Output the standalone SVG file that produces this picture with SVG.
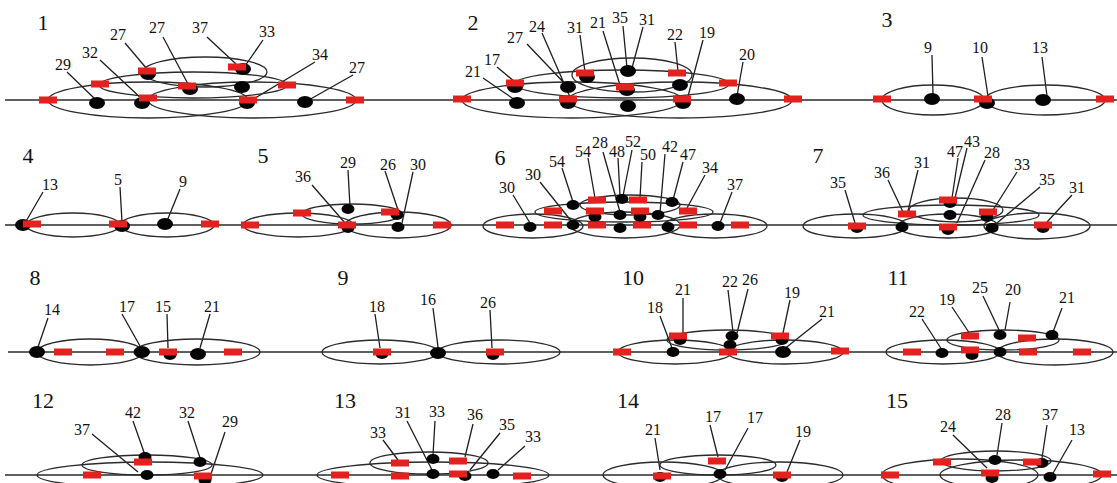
<svg xmlns="http://www.w3.org/2000/svg" xmlns:xlink="http://www.w3.org/1999/xlink" width="1117" height="483" viewBox="0 0 1117 483">
<style>
.bg{fill:#fff}
.axis{stroke:#2a2a2a;stroke-width:1.4;fill:none}
.orb{stroke:#2a2a2a;stroke-width:1.3;fill:none}
.lead{stroke:#1e1e1e;stroke-width:1.3;fill:none}
.lbl{font-family:"Liberation Serif","Times New Roman",serif;font-size:16px;fill:#111;text-anchor:middle}
.num{font-family:"Liberation Serif","Times New Roman",serif;font-size:22px;fill:#111;text-anchor:middle}
</style>
<defs>
<rect id="r" x="-9" y="-3.5" width="18" height="7" fill="#e3211f"/>
<ellipse id="d" rx="8" ry="6" fill="#050505"/>
<ellipse id="ds" rx="6.5" ry="5" fill="#050505"/>
</defs>
<rect class="bg" width="1117" height="483"/>

<!-- horizontal reference lines, one per row -->
<g id="axes">
<line class="axis" x1="5" y1="100" x2="1117" y2="100"/>
<line class="axis" x1="5" y1="225" x2="1117" y2="225"/>
<line class="axis" x1="8" y1="352" x2="1117" y2="352"/>
<line class="axis" x1="5" y1="475" x2="1117" y2="475"/>
</g>

<!-- leader lines from labels to markers -->
<g id="connectors" class="lead">
<path d="M67 72L95 99M100 60L143 100M125 43L147 69M163 37L188 84M207 37L236 64M263 40L245 66M315 62L252 100M353 75L307 101"/>
<path d="M483 78L515 100M497 67L515 82M527 44L567 86M542 33L570 97M580 35L585 72M603 31L620 85M623 26L627 68M643 27L632 68M675 42L678 71M703 40L687 100M743 62L737 96"/>
<path d="M932 55L933 95M982 57L988 96M1042 57L1047 96"/>
<path d="M43 192L25 223M120 187L122 222M180 189L167 221"/>
<path d="M312 185L345 223M348 170L350 207M385 171L398 210M413 172L402 223"/>
<path d="M513 195L530 223M540 182L572 222M562 168L573 202M588 158L595 198M603 152L620 212M618 158L620 196M632 150L623 196M642 162L640 198M665 154L660 213M683 162L673 200M705 175L687 208M732 192L720 223"/>
<path d="M845 190L855 223M888 180L903 212M918 170L908 211M958 158L952 198M967 148L955 198M985 160L957 223M1017 172L993 210M1040 187L997 223M1072 195L1047 222"/>
<path d="M48 318L38 347M122 314L140 346M167 314L168 348M210 314L200 348"/>
<path d="M375 314L380 348M433 308L438 347M490 310L492 348"/>
<path d="M660 316L672 348M683 298L683 333M728 290L733 332M748 289L737 333M790 300L783 333M822 319L783 350"/>
<path d="M922 319L942 350M952 307L970 334M983 296L1000 332M1010 302L1005 330M1062 308L1053 332"/>
<path d="M92 434L138 472M133 421L145 455M188 421L200 458M225 432L210 477"/>
<path d="M383 440L398 460M407 421L432 470M435 421L433 455M473 424L465 457M500 433L470 470M525 446L498 470"/>
<path d="M655 438L660 470M710 425L718 457M748 428L725 470M800 440L787 472"/>
<path d="M953 435L987 468M1002 423L997 455M1047 425L1042 458M1072 440L1052 475"/>
</g>

<g id="panel-1">
<text class="num" x="43" y="30">1</text>
<g class="orb"><ellipse cx="148" cy="100" rx="100" ry="18"/><ellipse cx="252" cy="100" rx="104" ry="18"/><ellipse cx="193" cy="85" rx="94" ry="13"/><ellipse cx="205" cy="72" rx="62" ry="15"/></g>
<use href="#d" x="97" y="103"/><use href="#d" x="142" y="103"/><use href="#d" x="148" y="74"/><use href="#d" x="190" y="89"/><use href="#d" x="242" y="87"/><use href="#d" x="243" y="69"/><use href="#d" x="247" y="103"/><use href="#d" x="305" y="102"/>
<use href="#r" x="48" y="100"/><use href="#r" x="100" y="84"/><use href="#r" x="147" y="71"/><use href="#r" x="148" y="98"/><use href="#r" x="187" y="86"/><use href="#r" x="237" y="67"/><use href="#r" x="248" y="100"/><use href="#r" x="287" y="85"/><use href="#r" x="355" y="100"/>
<g class="lbl"><text x="63" y="70">29</text><text x="90" y="58">32</text><text x="118" y="40">27</text><text x="157" y="33">27</text><text x="200" y="33">37</text><text x="267" y="37">33</text><text x="320" y="60">34</text><text x="357" y="73">27</text></g>
</g>

<g id="panel-2">
<text class="num" x="473" y="30">2</text>
<g class="orb"><ellipse cx="572" cy="100" rx="110" ry="18"/><ellipse cx="680" cy="100" rx="112" ry="18"/><ellipse cx="622" cy="84" rx="107" ry="14"/><ellipse cx="632" cy="75" rx="60" ry="17"/></g>
<use href="#d" x="517" y="103"/><use href="#d" x="515" y="87"/><use href="#d" x="568" y="87"/><use href="#d" x="587" y="77"/><use href="#d" x="628" y="71"/><use href="#d" x="628" y="106"/><use href="#d" x="680" y="85"/><use href="#d" x="683" y="103"/><use href="#d" x="737" y="99"/><use href="#d" x="568" y="103"/><use href="#d" x="627" y="90"/>
<use href="#r" x="462" y="99"/><use href="#r" x="515" y="83"/><use href="#r" x="568" y="99"/><use href="#r" x="585" y="73"/><use href="#r" x="625" y="87"/><use href="#r" x="677" y="73"/><use href="#r" x="728" y="83"/><use href="#r" x="682" y="99"/><use href="#r" x="793" y="99"/>
<g class="lbl"><text x="473" y="77">21</text><text x="492" y="65">17</text><text x="515" y="43">27</text><text x="537" y="32">24</text><text x="575" y="33">31</text><text x="598" y="28">21</text><text x="620" y="23">35</text><text x="647" y="25">31</text><text x="675" y="40">22</text><text x="707" y="38">19</text><text x="747" y="60">20</text></g>
</g>

<g id="panel-3">
<text class="num" x="887" y="27">3</text>
<g class="orb"><ellipse cx="933" cy="100" rx="51" ry="15"/><ellipse cx="1045" cy="100" rx="60" ry="15"/></g>
<use href="#d" x="932" y="99"/><use href="#d" x="1043" y="100"/><use href="#d" x="987" y="103"/>
<use href="#r" x="882" y="99"/><use href="#r" x="983" y="99"/><use href="#r" x="1105" y="99"/>
<g class="lbl"><text x="928" y="53">9</text><text x="980" y="53">10</text><text x="1040" y="53">13</text></g>
</g>

<g id="panel-4">
<text class="num" x="28" y="163">4</text>
<g class="orb"><ellipse cx="73" cy="225" rx="47" ry="12"/><ellipse cx="167" cy="225" rx="47" ry="12"/></g>
<use href="#d" x="23" y="225"/><use href="#d" x="122" y="226"/><use href="#d" x="165" y="224"/>
<use href="#r" x="32" y="224"/><use href="#r" x="118" y="224"/><use href="#r" x="210" y="224"/>
<g class="lbl"><text x="50" y="190">13</text><text x="118" y="185">5</text><text x="183" y="187">9</text></g>
</g>

<g id="panel-5">
<text class="num" x="263" y="163">5</text>
<g class="orb"><ellipse cx="298" cy="225" rx="55" ry="12"/><ellipse cx="398" cy="225" rx="53" ry="13"/><ellipse cx="352" cy="214" rx="50" ry="10"/></g>
<use href="#ds" x="348" y="209"/><use href="#ds" x="348" y="228"/><use href="#ds" x="397" y="215"/><use href="#ds" x="398" y="227"/>
<use href="#r" x="250" y="225"/><use href="#r" x="302" y="213"/><use href="#r" x="347" y="225"/><use href="#r" x="390" y="212"/><use href="#r" x="442" y="225"/>
<g class="lbl"><text x="303" y="182">36</text><text x="348" y="168">29</text><text x="388" y="170">26</text><text x="418" y="170">30</text></g>
</g>

<g id="panel-6">
<text class="num" x="500" y="165">6</text>
<g class="orb"><ellipse cx="533" cy="226" rx="50" ry="12"/><ellipse cx="625" cy="225" rx="55" ry="13"/><ellipse cx="715" cy="226" rx="52" ry="12"/><ellipse cx="624" cy="212" rx="89" ry="10"/><ellipse cx="630" cy="205" rx="50" ry="10"/></g>
<use href="#ds" x="530" y="227"/><use href="#ds" x="573" y="205"/><use href="#ds" x="573" y="225"/><use href="#ds" x="595" y="217"/><use href="#ds" x="622" y="199"/><use href="#ds" x="620" y="215"/><use href="#ds" x="620" y="228"/><use href="#ds" x="640" y="217"/><use href="#ds" x="658" y="215"/><use href="#ds" x="672" y="202"/><use href="#ds" x="668" y="227"/><use href="#ds" x="718" y="226"/>
<use href="#r" x="505" y="225"/><use href="#r" x="553" y="211"/><use href="#r" x="553" y="225"/><use href="#r" x="597" y="200"/><use href="#r" x="595" y="211"/><use href="#r" x="597" y="225"/><use href="#r" x="638" y="200"/><use href="#r" x="640" y="211"/><use href="#r" x="642" y="225"/><use href="#r" x="688" y="211"/><use href="#r" x="688" y="225"/><use href="#r" x="740" y="225"/>
<g class="lbl"><text x="507" y="193">30</text><text x="533" y="180">30</text><text x="557" y="167">54</text><text x="583" y="157">54</text><text x="600" y="148">28</text><text x="617" y="157">48</text><text x="633" y="147">52</text><text x="648" y="160">50</text><text x="670" y="152">42</text><text x="688" y="160">47</text><text x="710" y="173">34</text><text x="735" y="190">37</text></g>
</g>

<g id="panel-7">
<text class="num" x="818" y="163">7</text>
<g class="orb"><ellipse cx="855" cy="226" rx="52" ry="12"/><ellipse cx="948" cy="226" rx="50" ry="12"/><ellipse cx="1037" cy="226" rx="53" ry="13"/><ellipse cx="951" cy="215" rx="88" ry="10"/><ellipse cx="956" cy="210" rx="47" ry="12"/></g>
<use href="#ds" x="857" y="228"/><use href="#ds" x="902" y="227"/><use href="#ds" x="950" y="215"/><use href="#ds" x="948" y="230"/><use href="#ds" x="950" y="203"/><use href="#ds" x="992" y="228"/><use href="#ds" x="987" y="217"/><use href="#ds" x="1043" y="228"/>
<use href="#r" x="857" y="226"/><use href="#r" x="907" y="214"/><use href="#r" x="948" y="200"/><use href="#r" x="948" y="227"/><use href="#r" x="988" y="212"/><use href="#r" x="1043" y="225"/>
<g class="lbl"><text x="838" y="188">35</text><text x="882" y="178">36</text><text x="922" y="168">31</text><text x="955" y="157">47</text><text x="972" y="147">43</text><text x="992" y="158">28</text><text x="1022" y="170">33</text><text x="1047" y="185">35</text><text x="1077" y="193">31</text></g>
</g>

<g id="panel-8">
<text class="num" x="35" y="285">8</text>
<g class="orb"><ellipse cx="90" cy="352" rx="53" ry="13"/><ellipse cx="197" cy="352" rx="63" ry="13"/></g>
<use href="#d" x="37" y="352"/><use href="#d" x="142" y="352"/><use href="#ds" x="170" y="355"/><use href="#d" x="198" y="354"/>
<use href="#r" x="63" y="352"/><use href="#r" x="115" y="352"/><use href="#r" x="168" y="352"/><use href="#r" x="233" y="352"/>
<g class="lbl"><text x="52" y="315">14</text><text x="127" y="312">17</text><text x="163" y="312">15</text><text x="212" y="312">21</text></g>
</g>

<g id="panel-9">
<text class="num" x="343" y="285">9</text>
<g class="orb"><ellipse cx="380" cy="352" rx="58" ry="12"/><ellipse cx="499" cy="352" rx="61" ry="12"/></g>
<use href="#ds" x="382" y="354"/><use href="#d" x="438" y="353"/><use href="#ds" x="493" y="355"/>
<use href="#r" x="382" y="352"/><use href="#r" x="495" y="352"/>
<g class="lbl"><text x="377" y="312">18</text><text x="428" y="305">16</text><text x="488" y="308">26</text></g>
</g>

<g id="panel-10">
<text class="num" x="633" y="285">10</text>
<g class="orb"><ellipse cx="675" cy="352" rx="57" ry="12"/><ellipse cx="785" cy="352" rx="58" ry="12"/><ellipse cx="727" cy="340" rx="60" ry="10"/></g>
<use href="#ds" x="673" y="352"/><use href="#ds" x="680" y="340"/><use href="#ds" x="732" y="336"/><use href="#ds" x="730" y="345"/><use href="#d" x="783" y="352"/><use href="#ds" x="782" y="340"/>
<use href="#r" x="622" y="352"/><use href="#r" x="678" y="336"/><use href="#r" x="728" y="352"/><use href="#r" x="780" y="336"/><use href="#r" x="840" y="351"/>
<g class="lbl"><text x="655" y="313">18</text><text x="683" y="295">21</text><text x="730" y="287">22</text><text x="750" y="285">26</text><text x="792" y="298">19</text><text x="827" y="317">21</text></g>
</g>

<g id="panel-11">
<text class="num" x="898" y="285">11</text>
<g class="orb"><ellipse cx="943" cy="352" rx="57" ry="12"/><ellipse cx="1055" cy="352" rx="58" ry="13"/><ellipse cx="1003" cy="340" rx="56" ry="10"/></g>
<use href="#ds" x="942" y="353"/><use href="#ds" x="972" y="355"/><use href="#ds" x="1000" y="335"/><use href="#ds" x="1000" y="352"/><use href="#ds" x="1052" y="335"/>
<use href="#r" x="912" y="352"/><use href="#r" x="970" y="336"/><use href="#r" x="970" y="350"/><use href="#r" x="1027" y="338"/><use href="#r" x="1028" y="352"/><use href="#r" x="1082" y="352"/>
<g class="lbl"><text x="917" y="317">22</text><text x="947" y="305">19</text><text x="980" y="293">25</text><text x="1013" y="295">20</text><text x="1067" y="303">21</text></g>
</g>

<g id="panel-12">
<text class="num" x="43" y="408">12</text>
<g class="orb"><ellipse cx="150" cy="475" rx="113" ry="13"/><ellipse cx="147" cy="465" rx="65" ry="10"/></g>
<use href="#ds" x="145" y="457"/><use href="#ds" x="200" y="462"/><use href="#ds" x="147" y="475"/><use href="#ds" x="205" y="480"/>
<use href="#r" x="92" y="475"/><use href="#r" x="143" y="462"/><use href="#r" x="203" y="476"/>
<g class="lbl"><text x="82" y="435">37</text><text x="133" y="418">42</text><text x="187" y="418">32</text><text x="230" y="427">29</text></g>
</g>

<g id="panel-13">
<text class="num" x="345" y="408">13</text>
<g class="orb"><ellipse cx="433" cy="475" rx="116" ry="13"/><ellipse cx="429" cy="463" rx="59" ry="11"/></g>
<use href="#ds" x="433" y="459"/><use href="#ds" x="433" y="474"/><use href="#ds" x="465" y="476"/><use href="#ds" x="493" y="474"/>
<use href="#r" x="340" y="475"/><use href="#r" x="400" y="463"/><use href="#r" x="400" y="476"/><use href="#r" x="458" y="461"/><use href="#r" x="458" y="474"/><use href="#r" x="522" y="476"/>
<g class="lbl"><text x="378" y="438">33</text><text x="403" y="418">31</text><text x="437" y="417">33</text><text x="475" y="420">36</text><text x="507" y="430">35</text><text x="533" y="442">33</text></g>
</g>

<g id="panel-14">
<text class="num" x="628" y="408">14</text>
<g class="orb"><ellipse cx="663" cy="475" rx="60" ry="13"/><ellipse cx="780" cy="475" rx="63" ry="13"/><ellipse cx="718" cy="465" rx="58" ry="10"/></g>
<use href="#ds" x="660" y="477"/><use href="#ds" x="720" y="474"/><use href="#ds" x="782" y="477"/>
<use href="#r" x="662" y="476"/><use href="#r" x="717" y="461"/><use href="#r" x="782" y="475"/>
<g class="lbl"><text x="653" y="435">21</text><text x="713" y="422">17</text><text x="755" y="423">17</text><text x="803" y="437">19</text></g>
</g>

<g id="panel-15">
<text class="num" x="897" y="408">15</text>
<g class="orb"><ellipse cx="960" cy="475" rx="78" ry="16"/><ellipse cx="1021" cy="475" rx="81" ry="15"/><ellipse cx="996" cy="461" rx="55" ry="10"/></g>
<use href="#ds" x="995" y="460"/><use href="#ds" x="1042" y="463"/><use href="#ds" x="1050" y="477"/><use href="#ds" x="992" y="478"/>
<use href="#r" x="890" y="475"/><use href="#r" x="942" y="462"/><use href="#r" x="990" y="473"/><use href="#r" x="1032" y="462"/><use href="#r" x="1102" y="474"/>
<g class="lbl"><text x="948" y="432">24</text><text x="1003" y="420">28</text><text x="1050" y="420">37</text><text x="1077" y="435">13</text></g>
</g>
</svg>
